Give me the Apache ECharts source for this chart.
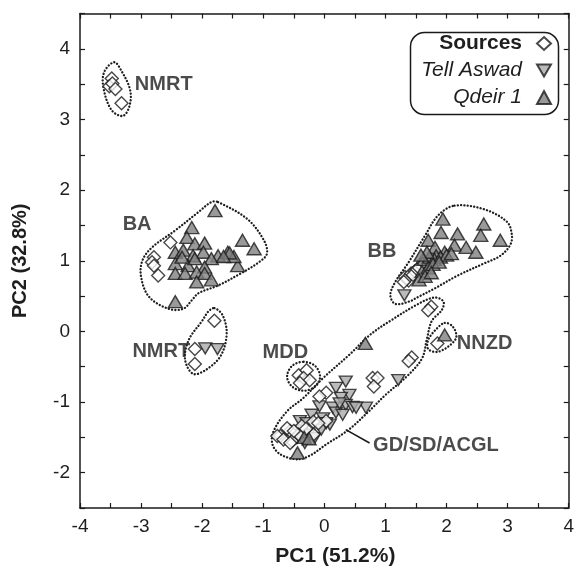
<!DOCTYPE html>
<html>
<head>
<meta charset="utf-8">
<script src="https://cdn.jsdelivr.net/npm/echarts@6/dist/echarts.min.js"></script>
<style>
html,body{margin:0;padding:0;background:#fff;}
#chart{width:577px;height:572px;}
</style>
</head>
<body>
<div id="chart"></div>
<script>
// ---- Data (PC1, PC2) ----
const sources = [
  [-3.48,3.58],[-3.52,3.47],[-3.47,3.51],[-3.42,3.43],[-3.32,3.23],
  [-2.52,1.26],[-2.79,1.05],[-2.82,0.98],[-2.79,0.93],[-2.72,0.79],
  [-1.80,0.15],[-2.12,-0.25],[-2.12,-0.46],
  [-0.42,-0.62],[-0.29,-0.55],[-0.34,-0.66],[-0.24,-0.69],[-0.40,-0.73],
  [1.32,0.77],[1.38,0.72],[1.35,0.75],[1.42,0.82],[1.48,0.85],[1.45,0.80],[1.52,0.88],[1.59,0.93],[1.55,0.90],[1.62,0.98],[1.70,1.00],[1.30,0.70],
  [1.85,-0.17],
  [1.75,0.35],[1.70,0.30],[1.43,-0.37],[1.38,-0.42],[0.79,-0.66],[0.87,-0.66],[0.81,-0.78],
  [0.03,-0.87],[-0.08,-0.92],[0.03,-1.27],[-0.18,-1.28],[-0.37,-1.34],[-0.56,-1.41],[-0.72,-1.48],[-0.53,-1.55],
  [-0.42,-1.46],[-0.18,-1.46],[-0.61,-1.37],[-0.77,-1.48],[-0.50,-1.41],[-0.67,-1.53],[-0.56,-1.58],[-0.30,-1.38],[-0.10,-1.30]
];
const tellAswad = [
  [-1.95,-0.24],[-1.75,-0.25],
  [1.31,0.51],
  [1.21,-0.69],
  [0.35,-0.71],[0.19,-0.80],[0.41,-0.90],[0.35,-1.04],[0.46,-1.07],[0.68,-1.08],[0.52,-1.08],[-0.08,-1.06],
  [0.14,-1.08],[0.19,-1.15],[-0.21,-1.18],[0.30,-1.18],[-0.02,-1.23],[0.09,-1.32],[-0.40,-1.27],[-0.29,-1.30],
  [-0.37,-1.41],[-0.26,-1.46],[-0.16,-1.51],[-0.32,-1.58],[-0.45,-1.51],[-0.05,-1.39],[0.03,-1.30],[0.27,-0.94],[0.25,-1.02]
];
const qdeir = [
  [-1.79,1.71],[-2.17,1.47],[-2.25,1.33],[-2.12,1.24],[-1.96,1.25],[-2.44,1.12],[-2.31,1.15],[-2.15,1.07],
  [-1.98,1.12],[-1.74,1.07],[-1.58,1.12],[-1.85,1.03],[-1.34,1.29],[-1.15,1.17],[-1.42,0.93],[-2.44,0.96],
  [-2.23,0.93],[-2.12,1.03],[-1.96,0.91],[-2.44,0.82],[-2.28,0.82],[-2.09,0.84],[-1.96,0.82],[-2.09,0.70],
  [-1.85,0.73],[-2.44,0.42],[-2.33,1.05],[-1.48,1.06],[-1.55,1.11],[-1.65,1.06],
  [1.94,1.59],[2.61,1.52],[2.56,1.36],[2.88,1.29],[1.91,1.40],[2.18,1.38],[1.70,1.29],[2.13,1.22],
  [2.32,1.19],[2.48,1.12],[1.97,1.12],[1.81,1.19],[1.83,1.07],
  [1.63,1.02],[1.72,1.05],[1.80,1.02],[1.90,1.05],[2.00,1.08],[2.08,1.10],[1.60,0.85],[1.70,0.90],
  [1.78,0.95],[1.88,0.98],[1.55,0.73],[1.65,0.78],[1.75,0.83],[1.68,1.12],[1.58,1.08],
  [0.67,-0.17],[1.97,-0.05],[-0.44,-1.72],[-0.33,-1.50],[-0.25,-1.52]
];
// group outlines (data coordinates)
const outlineNMRTtop = [[-3.44,3.81],[-3.33,3.70],[-3.18,3.42],[-3.19,3.19],[-3.30,3.05],[-3.49,3.14],[-3.62,3.47],[-3.60,3.68]];
const outlineBA = [[-1.74,1.83],[-1.26,1.59],[-0.99,1.29],[-0.94,1.10],[-1.07,0.98],[-1.37,0.82],[-1.74,0.65],[-2.06,0.54],[-2.17,0.44],[-2.31,0.32],[-2.55,0.32],[-2.87,0.49],[-3.00,0.77],[-2.98,1.00],[-2.82,1.19],[-2.44,1.43],[-2.06,1.69],[-1.85,1.83]];
const outlineNMRTlow = [[-1.80,0.33],[-1.66,0.22],[-1.60,-0.05],[-1.70,-0.35],[-1.95,-0.55],[-2.15,-0.60],[-2.28,-0.40],[-2.22,-0.12],[-2.00,0.15],[-1.90,0.28]];
const outlineMDD = [[-0.34,-0.43],[-0.15,-0.49],[-0.07,-0.64],[-0.15,-0.78],[-0.34,-0.84],[-0.53,-0.78],[-0.61,-0.64],[-0.53,-0.49]];
const outlineNNZD = [[1.97,0.12],[2.10,0.07],[2.16,-0.08],[2.05,-0.20],[1.85,-0.29],[1.70,-0.25],[1.70,-0.12],[1.83,0.03]];
const outlineGD = [[-0.45,-1.81],[-0.72,-1.74],[-0.85,-1.60],[-0.83,-1.41],[-0.61,-1.13],[-0.34,-0.94],[-0.02,-0.66],[0.41,-0.33],[0.76,-0.04],[1.08,0.15],[1.54,0.39],[1.81,0.48],[1.95,0.42],[1.92,0.30],[1.76,0.15],[1.68,-0.10],[1.60,-0.38],[1.37,-0.62],[1.00,-0.90],[0.73,-1.13],[0.40,-1.39],[0.03,-1.60],[-0.24,-1.76]];
const outlineBB = [[2.13,1.78],[2.61,1.73],[2.99,1.55],[3.07,1.36],[3.04,1.22],[2.88,1.07],[2.61,0.96],[2.18,0.79],[1.81,0.61],[1.54,0.49],[1.38,0.42],[1.16,0.39],[1.08,0.51],[1.16,0.70],[1.38,0.98],[1.65,1.36],[1.86,1.64]];
const outlines = [outlineNMRTtop, outlineBA, outlineNMRTlow, outlineMDD, outlineNNZD, outlineGD, outlineBB];
const groupLabels = [
  {name:'NMRT', value:[-3.11,3.49]},
  {name:'BA', value:[-3.31,1.51]},
  {name:'BB', value:[0.70,1.13]},
  {name:'NMRT', value:[-3.15,-0.28]},
  {name:'MDD', value:[-1.02,-0.30]},
  {name:'NNZD', value:[2.16,-0.17]},
  {name:'GD/SD/ACGL', value:[0.79,-1.62]}
];
const leader = [[0.35,-1.39],[0.74,-1.58]];
const xTitle = 'PC1 (51.2%)';
const yTitle = 'PC2 (32.8%)';

const FONT = '"Liberation Sans", Arial, sans-serif';
const INK = '#1a1a1a';
const chart = echarts.init(document.getElementById('chart'), null, {renderer:'canvas'});

const intLabel = v => (Math.abs(v - Math.round(v)) < 1e-6 ? String(Math.round(v)) : '');
const baseAxis = {
  type:'value', splitLine:{show:false},
  axisLine:{show:true, onZero:false, lineStyle:{color:INK, width:1.5}},
  axisTick:{show:true, inside:true, length:5, lineStyle:{color:INK, width:1.2}}
};
const legendCommon = {
  orient:'horizontal', padding:0, itemWidth:14, itemHeight:13, align:'right', selectedMode:false,
  right:25, textStyle:{fontSize:21, color:'#1e1e1e', fontFamily:FONT, padding:[0,10,0,0]}
};
const symStyle = c => ({color:c, borderColor:INK, borderWidth:1.4});

chart.setOption({
  animation:false,
  backgroundColor:'#fff',
  grid:{left:80, right:1, top:13.5, bottom:61.5, containLabel:false},
  xAxis:[
    Object.assign({}, baseAxis, {position:'bottom', min:-4, max:4, interval:0.5,
      axisLabel:{formatter:intLabel, fontSize:19, color:'#1e1e1e', fontFamily:FONT, margin:9},
      name:xTitle, nameLocation:'middle', nameGap:38,
      nameTextStyle:{fontSize:21, fontWeight:'bold', color:'#1e1e1e', fontFamily:FONT, padding:[0,0,0,22]}}),
    Object.assign({}, baseAxis, {position:'top', min:-4, max:4, interval:0.5, axisLabel:{show:false}})
  ],
  yAxis:[
    Object.assign({}, baseAxis, {position:'left', min:-2.5, max:4.5, interval:0.5,
      axisLabel:{formatter:intLabel, fontSize:19, color:'#1e1e1e', fontFamily:FONT, margin:10},
      name:yTitle, nameLocation:'middle', nameGap:50,
      nameTextStyle:{fontSize:20, fontWeight:'bold', color:'#1e1e1e', fontFamily:FONT}}),
    Object.assign({}, baseAxis, {position:'right', min:-2.5, max:4.5, interval:0.5, axisLabel:{show:false}})
  ],
  legend:[
    Object.assign({}, legendCommon, {top:33, data:[{name:'Sources', textStyle:{fontWeight:'bold'}}]}),
    Object.assign({}, legendCommon, {top:60, data:[{name:'Tell Aswad', textStyle:{fontStyle:'italic'}}]}),
    Object.assign({}, legendCommon, {top:87, data:[{name:'Qdeir 1', textStyle:{fontStyle:'italic'}}]})
  ],
  graphic:[{type:'rect', left:408, top:30, silent:true,
    shape:{width:148, height:82, r:14}, style:{fill:'none', stroke:INK, lineWidth:1.5}}],
  series:[
    {type:'custom', name:'outlines', coordinateSystem:'cartesian2d', silent:true, z:1,
      data: outlines.map(() => [0,0]),
      renderItem:(params, api) => {
        const pts = outlines[params.dataIndex].map(p => api.coord(p));
        return {type:'polygon', shape:{points:pts, smooth:0.35},
          style:{fill:'none', stroke:'#1e1e1e', lineWidth:2.3, lineDash:[0.1,3.2], lineCap:'round'}};
      }},
    {type:'line', name:'leader', data:leader, symbol:'none', silent:true, z:1,
      lineStyle:{color:INK, width:1.6}},
    {type:'scatter', name:'Tell Aswad', data:tellAswad, z:3,
      symbol:'path://M0,0L12,0L6,10.4Z', symbolSize:[13,11], itemStyle:symStyle('#aaaaaa')},
    {type:'scatter', name:'Sources', data:sources, z:4,
      symbol:'diamond', symbolSize:[13,13], itemStyle:symStyle('#ffffff')},
    {type:'scatter', name:'Qdeir 1', data:qdeir, z:5,
      symbol:'triangle', symbolSize:[14,12], itemStyle:symStyle('#808080')},
    {type:'scatter', name:'labels', data:groupLabels, z:6, symbolSize:1, silent:true,
      itemStyle:{color:'rgba(0,0,0,0)'},
      label:{show:true, position:'right', distance:0, formatter:'{b}', fontSize:20, fontWeight:'bold', color:'#1e1e1e', fontFamily:FONT}}
  ]
});
</script>
</body>
</html>
